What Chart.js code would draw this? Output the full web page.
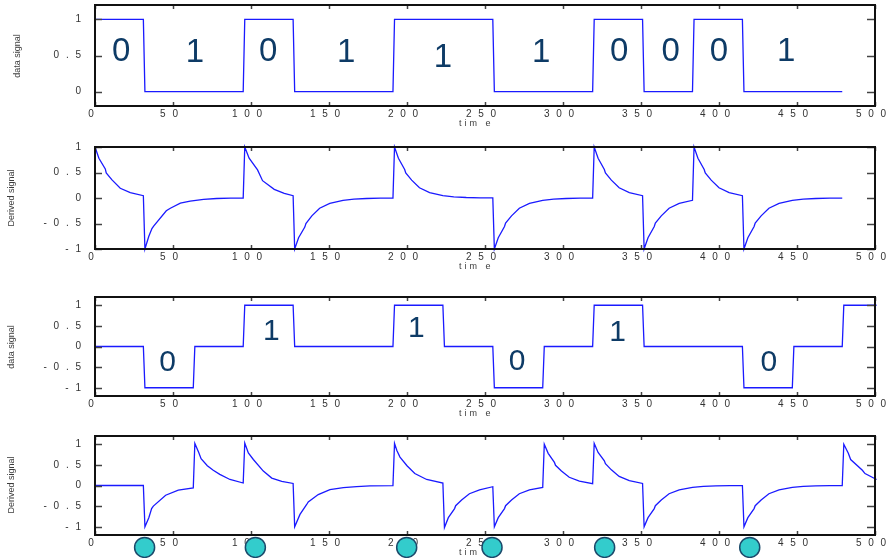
<!DOCTYPE html>
<html>
<head>
<meta charset="utf-8">
<script src="https://cdn.jsdelivr.net/npm/chart.js@4"></script>
<style>
  body { margin: 0; background: #fff; }
  canvas { position: absolute; left: 0; top: 0; }
</style>
</head>
<body>
<canvas id="p1" width="886" height="558"></canvas>
<canvas id="p2" width="886" height="558"></canvas>
<canvas id="p3" width="886" height="558"></canvas>
<canvas id="p4" width="886" height="558"></canvas>
<script>
// axis ticks
const xTicks = [0, 50, 100, 150, 200, 250, 300, 350, 400, 450, 500];
const yTicksData = [0, 0.5, 1];
const yTicksSigned = [-1, -0.5, 0, 0.5, 1];

// panel 1: data signal (time, level)
const dataSignalA = [[0,1],[31,1],[32,0],[95,0],[96,1],[127,1],[128,0],[191,0],[192,1],[255,1],
  [256,0],[319,0],[320,1],[351,1],[352,0],[383,0],[384,1],[415,1],[416,0],[479,0]];

// panel 2: derived signal
const derivedSignalA = [
  [0,1],[2.5,0.78],[6.6,0.57],[7.2,0.49],[10.9,0.355],[16.2,0.19],[22.6,0.105],[31,0.045],
  [32,-1],[34.5,-0.75],[36.5,-0.6],[37.6,-0.55],[45.7,-0.25],[48.3,-0.2],[54.7,-0.1],[61,-0.06],[69.6,-0.025],[78,-0.01],[87,-0.004],[95,-0.001],
  [96,1],[98.8,0.78],[104.2,0.55],[107.4,0.34],[114.9,0.17],[121.3,0.09],[127,0.045],
  [128,-1],[130.5,-0.78],[134.5,-0.57],[135.2,-0.5],[139,-0.35],[144,-0.2],[150.5,-0.105],[159,-0.045],[166,-0.022],[174,-0.01],[183,-0.004],[191,-0.001],
  [192,1],[194.5,0.78],[198.5,0.56],[199.2,0.49],[203,0.35],[208,0.2],[214.5,0.105],[223,0.045],[230,0.022],[238,0.01],[247,0.004],[255,0.001],
  [256,-1],[258.5,-0.78],[262.5,-0.56],[263.2,-0.49],[267,-0.35],[272,-0.2],[278.5,-0.105],[287,-0.045],[294,-0.022],[302,-0.01],[311,-0.004],[319,-0.001],
  [320,1],[322.5,0.78],[326.5,0.56],[327.2,0.49],[331,0.35],[336,0.2],[342.5,0.105],[351,0.045],
  [352,-1],[354.5,-0.78],[358.5,-0.56],[359.2,-0.49],[363,-0.35],[368,-0.2],[374.5,-0.105],[383,-0.045],
  [384,1],[386.5,0.78],[390.5,0.56],[391.2,0.49],[395,0.35],[400,0.2],[406.5,0.105],[415,0.045],
  [416,-1],[418.5,-0.78],[422.5,-0.56],[423.2,-0.49],[427,-0.35],[432,-0.2],[438.5,-0.105],[447,-0.045],[454,-0.022],[462,-0.01],[471,-0.004],[479,-0.001]
];

// panel 3: three level data signal
const dataSignalB = [[0,0],[31,0],[32,-1],[63,-1],[64,0],[95,0],[96,1],[127,1],[128,0],[191,0],
  [192,1],[223,1],[224,0],[255,0],[256,-1],[287,-1],[288,0],[319,0],[320,1],[351,1],[352,0],[415,0],
  [416,-1],[447,-1],[448,0],[479,0],[480,1],[501,1]];

// panel 4: derived signal
const derivedSignalB = [
  [0,0],[31,0],
  [32,-1],[34.5,-0.78],[36.3,-0.56],[37.4,-0.5],[45.3,-0.235],[53.4,-0.11],[63,-0.06],
  [64,1.02],[66.5,0.8],[68,0.65],[72,0.48],[75.8,0.37],[80,0.27],[86.5,0.146],[95,0.06],
  [96,1.03],[98.3,0.79],[101.5,0.63],[107.9,0.35],[113.3,0.18],[119.7,0.1],[127,0.05],
  [128,-1],[131.4,-0.7],[135.7,-0.46],[136.7,-0.4],[143.1,-0.22],[150.6,-0.1],[159.2,-0.05],[167.7,-0.025],[176.3,-0.01],[191,-0.002],
  [192,1.02],[193.5,0.85],[195.5,0.69],[200,0.48],[205,0.29],[212.6,0.146],[223,0.06],
  [224,-1.02],[226.5,-0.78],[230.5,-0.56],[231.2,-0.49],[235,-0.35],[240,-0.2],[246.5,-0.105],[255,-0.03],
  [256,-1],[258.5,-0.78],[262.5,-0.56],[263.2,-0.49],[267,-0.35],[272,-0.2],[278.5,-0.105],[287,-0.045],
  [288,1],[290.5,0.78],[294.5,0.56],[295.2,0.49],[299,0.35],[304,0.2],[310.5,0.105],[319,0.045],
  [320,1.02],[322.5,0.8],[326.5,0.6],[327.2,0.53],[331,0.38],[336,0.22],[342.5,0.12],[351,0.05],
  [352,-1],[354.5,-0.78],[358.5,-0.56],[359.2,-0.49],[363,-0.35],[368,-0.2],[374.5,-0.105],[383,-0.045],[390,-0.022],[398,-0.01],[407,-0.004],[415,-0.001],
  [416,-1],[418.5,-0.78],[422.5,-0.56],[423.2,-0.49],[427,-0.35],[432,-0.2],[438.5,-0.105],[447,-0.045],[454,-0.022],[462,-0.01],[471,-0.004],[479,0],
  [480,1],[482.9,0.78],[484.4,0.63],[491.9,0.37],[493.6,0.29],[501,0.146]
];

// bit labels
const bitsA = ['0','1','0','1','1','1','0','0','0','1'];
const bitsAX = [16.7, 64, 111, 161, 223, 286, 336, 369, 400, 443];
const bitsAY = [0.55, 0.54, 0.55, 0.53, 0.47, 0.53, 0.55, 0.55, 0.55, 0.55];
const bitsB = ['0','1','1','0','1','0'];
const bitsBX = [46.5, 113, 206, 270.5, 335, 432];
const bitsBY = [-0.39, 0.37, 0.44, -0.38, 0.34, -0.39];

// sampling marks under the last panel
const sampleX = [31.8, 102.8, 199.8, 254.5, 326.7, 419.7];
const sampleY = -1.5;

const FONT = '"Liberation Sans", Arial, sans-serif';
const spaced = v => String(Math.round(v * 10) / 10).split('').join(' ');

function line(ctx, x1, y1, x2, y2) {
  ctx.beginPath(); ctx.moveTo(x1, y1); ctx.lineTo(x2, y2); ctx.stroke();
}

const panelPlugin = {
  id: 'panel',
  beforeDraw(chart) {
    chart.ctx.letterSpacing = '2px';
  },
  beforeDatasetsDraw(chart, args, o) {
    const ctx = chart.ctx, a = chart.chartArea;
    ctx.save();
    ctx.letterSpacing = '0px';
    ctx.fillStyle = '#3c3c3c';
    ctx.font = '9px ' + FONT;
    ctx.textAlign = 'center';
    ctx.textBaseline = 'middle';
    ctx.save();
    ctx.translate(o.titleX, o.titleY);
    ctx.rotate(-Math.PI / 2);
    ctx.fillText(o.yTitle, 0, 0);
    ctx.restore();
    ctx.letterSpacing = '3px';
    ctx.textAlign = 'left';
    ctx.fillText('tim e', 459, a.bottom + 18);
    ctx.restore();
  },
  afterDatasetsDraw(chart, args, o) {
    const ctx = chart.ctx, a = chart.chartArea;
    const xs = chart.scales.x, ys = chart.scales.y;
    ctx.save();
    ctx.letterSpacing = '0px';
    // inside ticks
    ctx.strokeStyle = '#444';
    ctx.lineWidth = 1.5;
    ys.ticks.forEach(t => {
      const py = Math.round(ys.getPixelForValue(t.value)) + 0.5;
      line(ctx, a.left, py, a.left + 7, py);
      line(ctx, a.right - 8, py, a.right, py);
    });
    xs.ticks.forEach(t => {
      const px = Math.round(xs.getPixelForValue(t.value)) + 0.5;
      line(ctx, px, a.top, px, a.top + 4);
      line(ctx, px, a.bottom - 4, px, a.bottom);
    });
    // frame
    ctx.strokeStyle = '#111';
    ctx.lineWidth = 2;
    ctx.strokeRect(a.left, a.top, a.right - a.left, a.bottom - a.top);
    // bit labels
    ctx.fillStyle = '#0e3b66';
    ctx.font = o.bitSize + 'px ' + FONT;
    ctx.textAlign = 'center';
    ctx.textBaseline = 'middle';
    (o.bits || []).forEach((b, i) => {
      ctx.fillText(b, xs.getPixelForValue(o.bitX[i]), ys.getPixelForValue(o.bitY[i]));
    });
    // sampling circles
    if (o.samples) {
      ctx.fillStyle = '#33cccc';
      ctx.strokeStyle = '#1b4a6b';
      ctx.lineWidth = 1.5;
      o.samples.forEach(v => {
        ctx.beginPath();
        ctx.arc(xs.getPixelForValue(v), ys.getPixelForValue(sampleY), 10, 0, Math.PI * 2);
        ctx.fill();
        ctx.stroke();
      });
    }
    ctx.restore();
  }
};

function makePanel(id, p) {
  const tickFont = { family: FONT, size: 10 };
  new Chart(document.getElementById(id), {
    type: 'line',
    data: {
      datasets: [{
        data: p.series.map(q => ({ x: q[0], y: q[1] })),
        borderColor: '#1a1aff',
        borderWidth: 1.3,
        pointRadius: 0,
        tension: 0,
        fill: false,
        clip: false
      }]
    },
    options: {
      responsive: false,
      animation: false,
      devicePixelRatio: 1,
      layout: { padding: { top: p.top, left: 0, right: 11, bottom: 0 } },
      plugins: {
        legend: { display: false },
        tooltip: { enabled: false },
        panel: p
      },
      scales: {
        x: {
          type: 'linear', min: 0, max: 500,
          grid: { display: false, drawTicks: false },
          border: { display: false },
          afterBuildTicks: s => { s.ticks = xTicks.map(v => ({ value: v })); },
          afterFit: s => { s.height = 558 - p.bottom; s.paddingLeft = 0; s.paddingRight = 0; },
          ticks: { autoSkip: false, maxRotation: 0, padding: 2, labelOffset: -3, color: '#333', font: tickFont, callback: v => spaced(v) }
        },
        y: {
          type: 'linear', min: p.yMin, max: p.yMax,
          grid: { display: false, drawTicks: false },
          border: { display: false },
          afterBuildTicks: s => { s.ticks = p.yTicks.map(v => ({ value: v })); },
          afterFit: s => { s.width = 95; s.paddingTop = 0; s.paddingBottom = 0; },
          ticks: { autoSkip: false, padding: 12, color: '#333', font: tickFont, callback: v => spaced(v) }
        }
      }
    },
    plugins: [panelPlugin]
  });
}

makePanel('p1', { top: 5, bottom: 106, yMin: -0.2, yMax: 1.2, yTicks: yTicksData, series: dataSignalA,
  yTitle: 'data signal', titleX: 18, titleY: 56, bits: bitsA, bitX: bitsAX, bitY: bitsAY, bitSize: 33 });
makePanel('p2', { top: 147, bottom: 249, yMin: -1, yMax: 1, yTicks: yTicksSigned, series: derivedSignalA,
  yTitle: 'Derived signal', titleX: 12, titleY: 198 });
makePanel('p3', { top: 297, bottom: 396, yMin: -1.2, yMax: 1.2, yTicks: yTicksSigned, series: dataSignalB,
  yTitle: 'data signal', titleX: 12, titleY: 347, bits: bitsB, bitX: bitsBX, bitY: bitsBY, bitSize: 30 });
makePanel('p4', { top: 436, bottom: 535, yMin: -1.2, yMax: 1.2, yTicks: yTicksSigned, series: derivedSignalB,
  yTitle: 'Derived signal', titleX: 12, titleY: 485, samples: sampleX });
</script>
</body>
</html>
